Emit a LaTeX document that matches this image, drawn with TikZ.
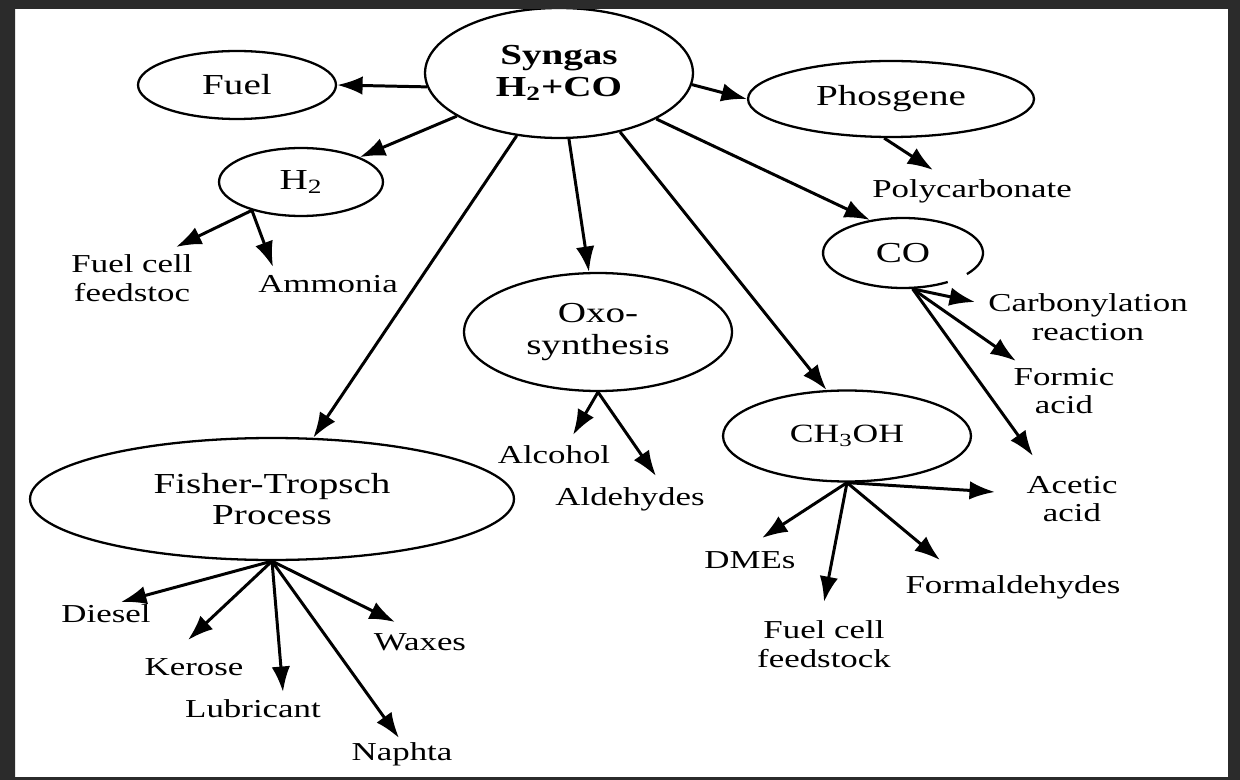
\documentclass[tikz,border=0pt]{standalone}
\usepackage{fontspec}
\setmainfont{Liberation Serif}[FakeStretch=1.35]
\usetikzlibrary{shapes.geometric,arrows.meta}
\definecolor{framegray}{HTML}{2B2B2B}
\newcommand{\bubfont}{\fontsize{16.5}{18}\selectfont}
\newcommand{\lblfont}{\fontsize{14.7}{16.4}\selectfont}

\begin{document}
\begin{tikzpicture}[x=0.02cm, y=-0.02cm,
    bub/.style={ellipse, draw, line width=1.3pt, inner sep=0pt, align=center, font=\bubfont},
    lbl/.style={font=\lblfont, anchor=base},
    lbltwo/.style={font=\lblfont, align=center},
    arr/.style={-{Latex[length=14.5pt, width=10.5pt]}, line width=1.7pt}]

    % White sheet
    \fill[white] (0,0) rectangle (1240,780);

    % Ellipses
    \node[bub, minimum width=5.36cm, minimum height=2.6cm] (syn) at (559,73) {\textbf{Syngas}\\\textbf{H\textsubscript{2}+CO}};
    \node[bub, minimum width=3.96cm, minimum height=1.36cm] (fuel) at (237,85) {Fuel};
    \node[bub, minimum width=5.72cm, minimum height=1.52cm] (phos) at (891,99) {Phosgene};
    \node[bub, minimum width=3.28cm, minimum height=1.36cm] (h2) at (301,182) {H\textsubscript{2}};
    \node[bub, draw=none, minimum width=3.2cm, minimum height=1.4cm] (co) at (903,253) {CO};
    \node[bub, minimum width=5.36cm, minimum height=2.36cm] (oxo) at (598,332) {Oxo-\\synthesis};
    \node[bub, minimum width=4.96cm, minimum height=1.82cm, font=\fontsize{15}{18}\selectfont] (meth) at (847,436) {CH\textsubscript{3}OH};
    \node[bub, minimum width=9.68cm, minimum height=2.44cm] (ft) at (272,499) {Fisher-Tropsch\\Process};

    % CO ellipse is left open at the lower right
    \draw[line width=1.3pt] ([shift={(-37:1.6cm and 0.7cm)}]co.center)
        arc[start angle=-37, end angle=304, x radius=1.6cm, y radius=0.7cm];

    % Product labels
    \node[lbl] (poly) at (972,198) {Polycarbonate};
    \node[lbltwo] (fcs) at (132,278) {Fuel cell\\feedstoc};
    \node[lbl] (amm) at (328,293) {Ammonia};
    \node[lbltwo] (carb) at (1088,317) {Carbonylation\\reaction};
    \node[lbltwo] (formic) at (1064,391) {Formic\\acid};
    \node[lbltwo] (acetic) at (1072,499) {Acetic\\acid};
    \node[lbl] (alc) at (554,463) {Alcohol};
    \node[lbl] (ald) at (630,505) {Aldehydes};
    \node[lbl] (dme) at (750,568) {DMEs};
    \node[lbltwo] (fcf) at (824,644) {Fuel cell\\feedstock};
    \node[lbl] (form) at (1013,593) {Formaldehydes};
    \node[lbl] (diesel) at (106,622) {Diesel};
    \node[lbl] (kero) at (194,675) {Kerose};
    \node[lbl] (lub) at (253,717) {Lubricant};
    \node[lbl] (naph) at (402,760) {Naphta};
    \node[lbl] (wax) at (420,650) {Waxes};

    % Arrow tips above the labels
    \coordinate (t-fcs) at (176,247);
    \coordinate (t-amm) at (273,267);
    \coordinate (t-poly) at (933,170);
    \coordinate (t-carb) at (975,302);
    \coordinate (t-formic) at (1016,361);
    \coordinate (t-acco) at (1033,456);
    \coordinate (t-alc) at (573,435);
    \coordinate (t-ald) at (656,476);
    \coordinate (t-acme) at (995,492);
    \coordinate (t-dme) at (762,538);
    \coordinate (t-fcf) at (824,602);
    \coordinate (t-form) at (940,560);
    \coordinate (t-diesel) at (121,602);
    \coordinate (t-kero) at (188,640);
    \coordinate (t-lub) at (283,692);
    \coordinate (t-naph) at (399,738);
    \coordinate (t-wax) at (395,622);

    % Routes out of syngas
    \draw[arr] (syn.186) -- (fuel.east);
    \draw[arr] (syn.-5) -- (phos.west);
    \draw[arr] (syn) -- (h2);
    \draw[arr] (syn) -- (co.135);
    \draw[arr] (syn) -- (oxo);
    \draw[arr] (syn.-44) -- (meth.114);
    \draw[arr] (syn) -- (ft);

    % Products
    \draw[arr] (phos.-100) -- (t-poly);
    \draw[arr] (h2.-150) -- (t-fcs);
    \draw[arr] (h2.-150) -- (t-amm);
    \draw[arr] (co.-75) -- (t-carb);
    \draw[arr] (co.-75) -- (t-formic);
    \draw[arr] (co.-75) -- (t-acco);
    \draw[arr] (oxo.south) -- (t-alc);
    \draw[arr] (oxo.south) -- (t-ald);
    \draw[arr] (meth.south) -- (t-acme);
    \draw[arr] (meth.south) -- (t-dme);
    \draw[arr] (meth.south) -- (t-fcf);
    \draw[arr] (meth.south) -- (t-form);
    \draw[arr] (ft.south) -- (t-diesel);
    \draw[arr] (ft.south) -- (t-kero);
    \draw[arr] (ft.south) -- (t-lub);
    \draw[arr] (ft.south) -- (t-naph);
    \draw[arr] (ft.south) -- (t-wax);

    % Dark frame on top
    \fill[framegray, even odd rule] (0,0) rectangle (1240,780) (15,9) rectangle (1228,777);

\end{tikzpicture}
\end{document}
